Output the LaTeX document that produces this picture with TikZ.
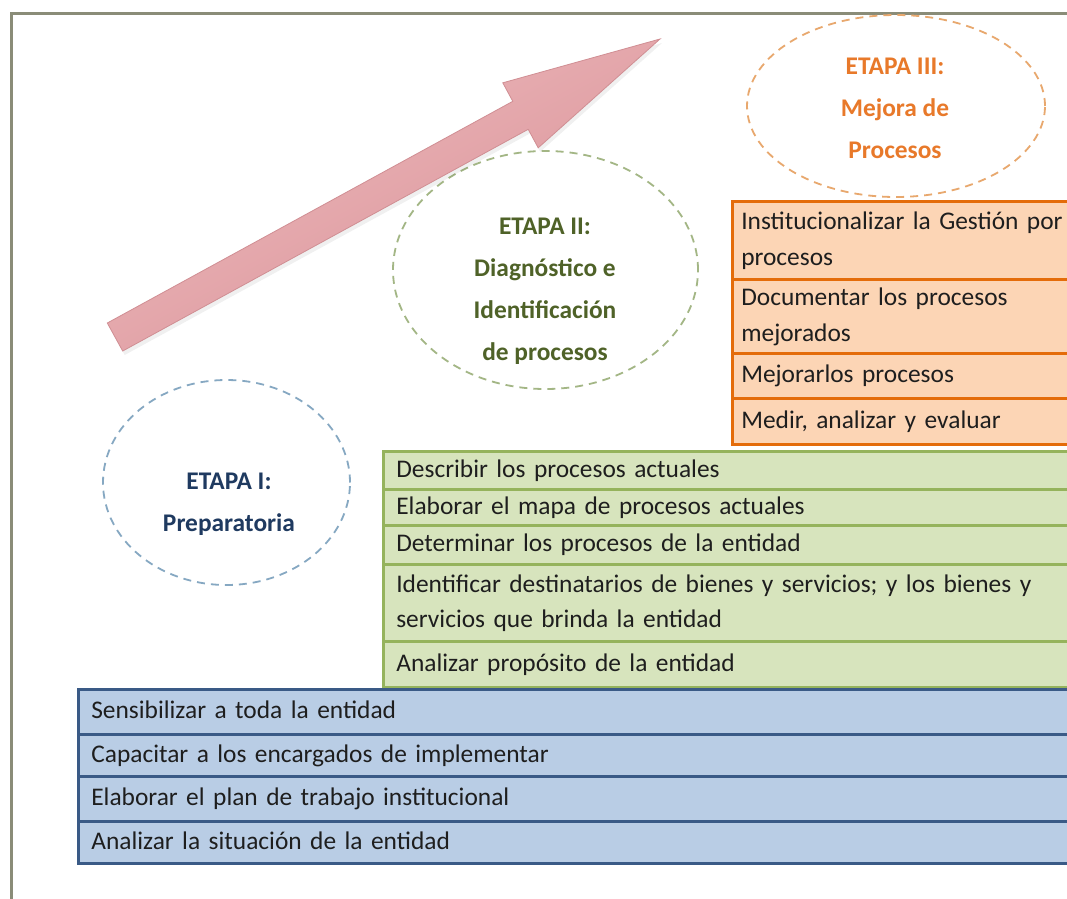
\documentclass[tikz,border=0pt]{standalone}
\usepackage{fontspec}
\setmainfont{Carlito}
\usetikzlibrary{shapes.geometric}
\definecolor{framecol}{HTML}{8A8C78}
\definecolor{bluefill}{HTML}{B9CDE5}
\definecolor{blueline}{HTML}{3A5A86}
\definecolor{greenfill}{HTML}{D7E4BD}
\definecolor{greenline}{HTML}{95B35C}
\definecolor{orangefill}{HTML}{FCD5B5}
\definecolor{orangeline}{HTML}{E46C0A}
\definecolor{etIdash}{HTML}{86A8C2}
\definecolor{etIIdash}{HTML}{A3B685}
\definecolor{etIIIdash}{HTML}{E8A86E}
\definecolor{etItext}{HTML}{1F3A60}
\definecolor{etIItext}{HTML}{4F6228}
\definecolor{etIIItext}{HTML}{E8792A}
\definecolor{arrowA}{HTML}{EDBBBE}
\definecolor{arrowB}{HTML}{DA9197}
\definecolor{arrowC}{HTML}{F5DCDD}
\definecolor{arrowedge}{HTML}{D08E93}
\definecolor{rowtext}{HTML}{1E1E1E}
\tikzset{
  rowbox/.style={draw, line width=2.6pt, anchor=north west, inner xsep=13pt,
    inner ysep=0pt, align=left, text=rowtext,
    font=\fontsize{25.4}{35.6}\selectfont},
  bluerow/.style={rowbox, fill=bluefill, draw=blueline, text width=987pt},
  greenrow/.style={rowbox, fill=greenfill, draw=greenline, text width=682pt},
  orangerow/.style={rowbox, fill=orangefill, draw=orangeline, inner xsep=9pt, text width=341pt},
  stagering/.style={ellipse, line width=1.8pt, dash pattern=on 8pt off 6pt, inner sep=0pt},
  stagelabel/.style={align=center, font=\bfseries\fontsize{25.4}{42}\selectfont}
}
\begin{document}
\begin{tikzpicture}[x=1pt,y=-1pt]
\useasboundingbox (0,0) rectangle (1067,898);
\clip (0,0) rectangle (1067,898);
\fill[white] (0,0) rectangle (1067,898);
\draw[framecol, line width=3pt] (11,13) rectangle (1100,930);

% stage ellipses
\node[stagering, draw=etIdash, minimum width=247pt, minimum height=205pt] (e1) at (226.5,482.5) {};
\node[stagering, draw=etIIdash, minimum width=305pt, minimum height=238pt] (e2) at (545.5,270) {};
\node[stagering, draw=etIIIdash, minimum width=298pt, minimum height=182pt] (e3) at (896,106) {};

\node[stagelabel, text=etItext] (t1) at (229,502) {\strut ETAPA I:\\\strut Preparatoria};
\node[stagelabel, text=etIItext] (t2) at (545,289) {\strut ETAPA II:\\Diagnóstico e\\Identificación\\\strut de procesos};
\node[stagelabel, text=etIIItext] (t3) at (895,108) {\strut ETAPA III:\\Mejora de\\\strut Procesos};

% arrow
\fill[black, opacity=0.06] (109.3,327) -- (514.8,105.3) -- (504.8,86.8) -- (662,43) -- (540.2,151.8) -- (530.2,133.3) -- (124.7,355) -- cycle;
\shade[top color=arrowA, middle color=arrowC, bottom color=arrowB, shading angle=28.7,
  draw=arrowedge, line width=0.8pt]
  (107.3,323) -- (512.8,101.3) -- (502.8,82.8) -- (660,39) -- (538.2,147.8) -- (528.2,129.3) -- (122.7,351) -- cycle;

% orange rows
\node[orangerow, minimum height=78pt] (o1) at (731,200) {\strut Institucionalizar la Gestión por\\\strut procesos};
\node[orangerow, minimum height=74pt] (o2) at (731,278) {\strut Documentar los procesos\\\strut mejorados};
\node[orangerow, minimum height=45pt] (o3) at (731,352) {\strut Mejorarlos procesos};
\node[orangerow, minimum height=46pt] (o4) at (731,397) {\strut Medir, analizar y evaluar};

% green rows
\node[greenrow, minimum height=38pt] (g1) at (382,450) {\strut Describir los procesos actuales};
\node[greenrow, minimum height=36pt] (g2) at (382,488) {\strut Elaborar el mapa de procesos actuales};
\node[greenrow, minimum height=39pt] (g3) at (382,524) {\strut Determinar los procesos de la entidad};
\node[greenrow, minimum height=77pt] (g4) at (382,563) {\strut\makebox[672pt][s]{Identificar destinatarios de bienes y servicios; y los bienes y}\\\strut servicios que brinda la entidad};
\node[greenrow, minimum height=46pt] (g5) at (382,640) {\strut Analizar propósito de la entidad};

% blue rows
\node[bluerow, minimum height=45pt] (b1) at (77,688) {\strut Sensibilizar a toda la entidad};
\node[bluerow, minimum height=42pt] (b2) at (77,733) {\strut Capacitar a los encargados de implementar};
\node[bluerow, minimum height=45pt] (b3) at (77,775) {\strut Elaborar el plan de trabajo institucional};
\node[bluerow, minimum height=42pt] (b4) at (77,820) {\strut Analizar la situación de la entidad};
\end{tikzpicture}
\end{document}
